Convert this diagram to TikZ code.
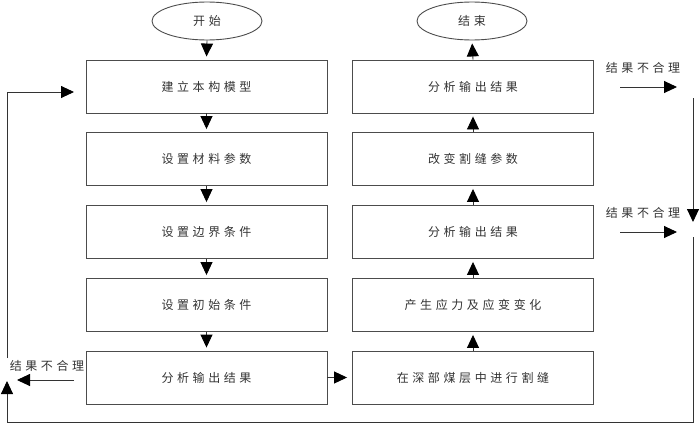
\documentclass[tikz,border=0pt]{standalone}
\usepackage{fontspec}
\newfontfamily\cjk[LetterSpace=30]{Noto Sans CJK SC}
\usetikzlibrary{arrows.meta,shapes.geometric}
\begin{document}
\begin{tikzpicture}[x=1pt,y=-1pt,
  every node/.style={font=\cjk\fontsize{12}{14}\selectfont, text=black!80},
  stepbox/.style={draw=black!70, line width=0.9pt, minimum width=241pt, minimum height=53pt, inner sep=0pt},
  oval/.style={ellipse, draw=black!70, line width=0.9pt, minimum width=110pt, minimum height=38pt, inner sep=0pt},
  arr/.style={-{Triangle[width=12pt,length=13pt,color=black]}, line width=0.9pt, draw=black!80},
  flow/.style={arr, shorten >=3pt},
  note/.style={inner sep=0pt}
]
\useasboundingbox (0,0) rectangle (700,423);
% ovals
\node[oval] (start) at (207,21) {开始};
\node[oval] (finish) at (472,21) {结束};
% left column
\node[stepbox] (l1) at (206.5,86.5) {建立本构模型};
\node[stepbox] (l2) at (206.5,159) {设置材料参数};
\node[stepbox] (l3) at (206.5,232) {设置边界条件};
\node[stepbox] (l4) at (206.5,305) {设置初始条件};
\node[stepbox] (l5) at (206.5,377.5) {分析输出结果};
% right column
\node[stepbox] (r1) at (473,86.5) {分析输出结果};
\node[stepbox] (r2) at (473,159) {改变割缝参数};
\node[stepbox] (r3) at (473,232) {分析输出结果};
\node[stepbox] (r4) at (473,305) {产生应力及应变变化};
\node[stepbox] (r5) at (473,377.5) {在深部煤层中进行割缝};
% flow arrows
\draw[flow] (start.south) -- (l1.north);
\draw[flow] (l1.south) -- (l2.north);
\draw[flow] (l2.south) -- (l3.north);
\draw[flow] (l3.south) -- (l4.north);
\draw[flow] (l4.south) -- (l5.north);
\draw[flow, shorten >=5pt] (l5.east) -- (r5.west);
\draw[flow] (r5.north) -- (r4.south);
\draw[flow] (r4.north) -- (r3.south);
\draw[flow] (r3.north) -- (r2.south);
\draw[flow] (r2.north) -- (r1.south);
\draw[flow] (r1.north) -- (finish.south);
% labels
\node[note] (t1) at (643,68) {结果不合理};
\node[note] (t2) at (643,213) {结果不合理};
\node[note] (t3) at (47,366) {结果不合理};
% feedback coordinates
\coordinate (a1s) at (620,87);
\coordinate (a1e) at (677,87);
\coordinate (a2s) at (620,232);
\coordinate (a2e) at (677,232);
\coordinate (v1s) at (693,98);
\coordinate (v1e) at (693,222);
\coordinate (v2s) at (693,237);
\coordinate (br) at (693,422);
\coordinate (bl) at (7,422);
\coordinate (upe) at (7,381);
\coordinate (lls) at (7,358);
\coordinate (tl) at (7,92);
\coordinate (tle) at (74,92);
\coordinate (a3s) at (74,380);
\coordinate (a3e) at (17,380);
\draw[arr] (a1s) -- (a1e);
\draw[arr] (a2s) -- (a2e);
\draw[arr] (v1s) -- (v1e);
\draw[arr] (v2s) -- (br) -- (bl) -- (upe);
\draw[arr] (lls) -- (tl) -- (tle);
\draw[arr] (a3s) -- (a3e);
\end{tikzpicture}
\end{document}
